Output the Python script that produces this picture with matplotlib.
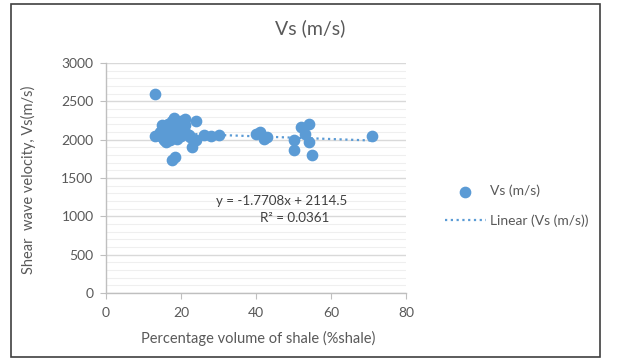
import numpy as np
import matplotlib
matplotlib.use('Agg')
import matplotlib.pyplot as plt
from matplotlib.patches import Rectangle

plt.rcParams['font.family'] = ['Lato', 'DejaVu Sans']

# data: shale volume (%) vs shear wave velocity (m/s)
shale_pct = [13, 13, 14.5, 15, 15.5, 15, 16, 16, 16.5, 17, 17, 17.5, 18, 18, 18,
             18.5, 19, 19, 19, 19.5, 20, 20, 20, 20.5, 21, 21, 21.5, 22, 22.5,
             16, 17, 14, 15.5, 17.5, 18.5, 23, 24, 24, 26, 28, 30,
             40, 41, 42, 43, 50, 50, 52, 54, 53, 54, 55, 71]
vs_ms = [2600, 2050, 2100, 2190, 2150, 2030, 1970, 2080, 2200, 2120, 2000, 2240,
         2280, 2060, 2170, 2100, 2220, 2010, 2140, 2070, 2180, 2250, 2050, 2110,
         2270, 2190, 2080, 2060, 2040, 2020, 2070, 2060, 1990, 1740, 1780, 1900,
         2240, 1990, 2060, 2050, 2060, 2080, 2100, 2010, 2040, 1990, 1870, 2160,
         2210, 2070, 1970, 1800, 2050]

# trendline reported on the chart
slope = -1.7708
intercept = 2114.5
r2 = 0.0361

blue = '#5B9BD5'
grey = '#595959'

fig = plt.figure(figsize=(6.26, 3.62), dpi=100)
W, H = 626, 362
ax = fig.add_axes([106 / W, 1 - 293 / H, 300 / W, 230 / H])

ax.set_xlim(0, 80)
ax.set_ylim(0, 3000)
ax.set_xticks(range(0, 81, 20))
ax.set_yticks(range(0, 3001, 500))
ax.set_yticks(range(0, 3001, 100), minor=True)

ax.grid(True, which='major', axis='y', color='#d9d9d9', linewidth=1)
ax.grid(True, which='minor', axis='y', color='#efefef', linewidth=0.8)
ax.set_axisbelow(True)

for side in ['top', 'right']:
    ax.spines[side].set_visible(False)
for side in ['left', 'bottom']:
    ax.spines[side].set_color('#bfbfbf')
    ax.spines[side].set_linewidth(1)

ax.tick_params(which='major', direction='out', length=4, color='#bfbfbf',
               labelcolor=grey, labelsize=10)
ax.tick_params(axis='x', pad=6)
ax.tick_params(axis='y', pad=5)
ax.tick_params(which='minor', length=0)

sc = ax.scatter(shale_pct, vs_ms, s=55, color=blue, zorder=3, label='Vs (m/s)')

xs = np.array([min(shale_pct), max(shale_pct)])
ln, = ax.plot(xs, slope * xs + intercept, color=blue, linestyle=(0, (1, 1.6)),
              linewidth=1.6, zorder=4, label='Linear (Vs (m/s))')

ax.text(282 / W, 1 - 201 / H, f'y = {slope}x + {intercept}', transform=fig.transFigure,
        ha='center', va='center', fontsize=9.6, color='#404040')
ax.text(295 / W, 1 - 218 / H, f'R² = {r2}', transform=fig.transFigure,
        ha='center', va='center', fontsize=9.6, color='#404040')

fig.text(310 / W, 1 - 28 / H, 'Vs (m/s)', ha='center', va='center',
         fontsize=14, color=grey)
fig.text(258 / W, 1 - 338 / H, 'Percentage volume of shale (%shale)',
         ha='center', va='center', fontsize=10.5, color=grey)
fig.text(28 / W, 1 - 180 / H, 'Shear  wave velocity, Vs(m/s)', ha='center',
         va='center', rotation=90, fontsize=10.5, color=grey)

fig.legend(handles=[sc, ln], loc='center left',
           bbox_to_anchor=(432 / W, 1 - 206 / H), frameon=False, fontsize=10,
           handlelength=3.0, labelspacing=1.25, handletextpad=0.25,
           labelcolor=grey, scatterpoints=1)

fig.patches.append(Rectangle((11 / W, 1 - 357 / H), 589 / W, 353 / H,
                             transform=fig.transFigure, fill=False,
                             edgecolor='#404040', linewidth=1.2))

fig.savefig('out.png', dpi=100)
